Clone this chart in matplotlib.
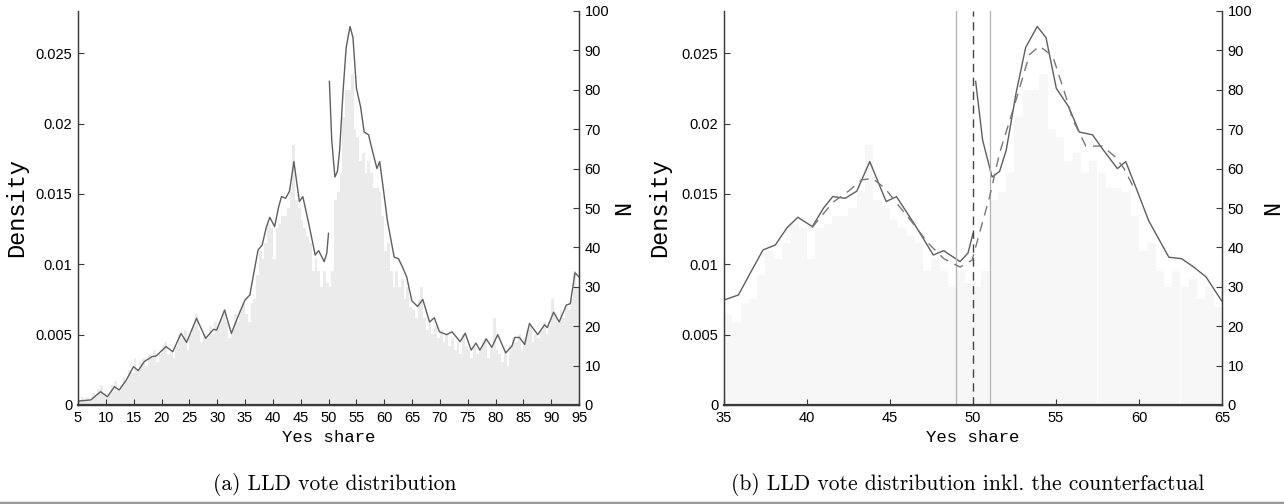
import numpy as np
import matplotlib
matplotlib.use("Agg")
import matplotlib.pyplot as plt
from matplotlib.lines import Line2D

# histogram: counts per 0.5-wide bin, 5.0 .. 95.0
bin_edges = np.arange(5.0, 95.01, 0.5)
counts = [
    # 5 - 35
    1, 2, 1, 2, 1, 3, 2, 4, 5, 3, 2, 3, 5, 6, 4, 5, 7, 6, 9, 8,
    12, 9, 11, 12, 10, 13, 12, 14, 11, 13, 15, 16, 13, 14, 12, 15, 18, 17, 19, 14,
    18, 20, 23, 19, 16, 18, 17, 20, 18, 21, 20, 22, 24, 21, 17, 19, 23, 21, 24, 26,
    # 35 - 65
    23, 21, 26, 27, 33, 39, 37, 41, 46, 45, 37, 45, 46, 48, 48, 50, 54, 66, 52, 50,
    47, 45, 43, 41, 34, 37, 34, 30, 34, 31, 30, 34, 52, 54, 59, 73, 80, 80, 84, 70,
    68, 62, 64, 59, 62, 59, 55, 55, 54, 48, 39, 41, 34, 30, 34, 30, 32, 27, 30, 25,
    # 65 - 95
    24, 22, 27, 30, 22, 19, 21, 18, 20, 17, 19, 16, 18, 15, 17, 14, 16, 13, 18, 15,
    14, 12, 15, 13, 14, 16, 17, 12, 15, 22, 14, 13, 11, 14, 10, 15, 17, 16, 18, 14,
    17, 19, 20, 16, 18, 17, 19, 21, 18, 20, 27, 23, 21, 24, 22, 25, 24, 27, 34, 30,
]

# estimated density, left of the 50% threshold
dens_left_x = [5.0, 7.3, 9.06, 10.27, 11.55, 12.4, 13.69, 14.97, 15.82, 16.89,
               18.31, 19.03, 20.81, 22.02, 23.51, 24.51, 26.29, 27.93, 29.35, 29.92,
               31.34, 32.55, 33.98, 35.0, 35.87, 36.5, 37.35, 38.09, 38.8, 39.45,
               40.32, 41.0, 41.55, 42.3, 43.0, 43.78, 44.77, 45.39, 46.5, 47.61,
               48.23, 49.22, 49.7, 50.0]
dens_left_y = [0.00028, 0.00036, 0.00095, 0.00059, 0.0013, 0.00107, 0.00178, 0.00273, 0.00244, 0.00308,
               0.00344, 0.00348, 0.00415, 0.00379, 0.00509, 0.00445, 0.00616, 0.00474, 0.00538, 0.00533,
               0.00675, 0.00509, 0.00652, 0.00746, 0.00782, 0.0092, 0.01102, 0.01137, 0.0126, 0.01334,
               0.01268, 0.0140, 0.01481, 0.01469, 0.0152, 0.0173, 0.01446, 0.01481, 0.0128, 0.01066,
               0.01097, 0.01019, 0.0108, 0.0122]

# estimated density, right of the threshold
dens_right_x = [50.16, 50.58, 51.15, 51.6, 52.0, 52.6, 53.17, 53.87, 54.4, 55.02,
                55.76, 56.4, 57.2, 57.8, 58.7, 59.2, 59.9, 60.58, 61.8, 62.56,
                63.3, 64.04, 64.98, 66.0, 66.94, 68.15, 69.0, 69.93, 71.22, 72.2,
                73.64, 74.56, 75.63, 76.48, 77.2, 78.34, 79.33, 80.4, 81.83, 82.96,
                83.46, 84.3, 85.24, 86.1, 87.59, 88.8, 89.3, 90.44, 91.44, 92.72,
                93.43, 94.28, 95.0]
dens_right_y = [0.0230, 0.01882, 0.0162, 0.0166, 0.0181, 0.0222, 0.0254, 0.0269, 0.0261, 0.0225,
                0.0212, 0.0194, 0.0192, 0.0182, 0.0168, 0.0173, 0.0152, 0.0131, 0.0105, 0.0104,
                0.0098, 0.0091, 0.0074, 0.0070, 0.0075, 0.0059, 0.0062, 0.0052, 0.0050, 0.0052,
                0.0045, 0.0051, 0.0039, 0.0044, 0.0039, 0.0047, 0.0041, 0.0050, 0.0037, 0.0042,
                0.0048, 0.0048, 0.0043, 0.0058, 0.0050, 0.0057, 0.0055, 0.0066, 0.0059, 0.0071,
                0.0072, 0.0094, 0.0091]

# counterfactual density (panel b, dashed)
cf_x = [40.3, 41.55, 42.5, 43.3, 43.95, 44.7, 45.5, 46.26, 47.3, 48.24,
        49.22, 49.95, 50.27, 51.0, 51.6, 52.6, 53.4, 54.0, 54.8, 55.6,
        56.0, 56.8, 57.8, 58.6, 59.1, 59.7]
cf_y = [0.0126, 0.0144, 0.0152, 0.0160, 0.0161, 0.0154, 0.0142, 0.0131, 0.0115, 0.0104,
        0.0098, 0.0103, 0.0117, 0.0148, 0.0179, 0.0217, 0.0249, 0.0255, 0.0248, 0.0219,
        0.0203, 0.0184, 0.0184, 0.0176, 0.0168, 0.0154]

band_lines = [49, 51]
threshold = 50

W, H = 1284, 504
fig = plt.figure(figsize=(W / 100, H / 100), dpi=100)

TICK_FAMILY = "Liberation Sans"
mono = "Liberation Mono"
LINE_C = "#5f5f5f"
SPINE_C = "#3a3a3a"


def make_panel(left_px, width_px, xlim, xticks, bar_color, caption, caption_x):
    ax = fig.add_axes([left_px / W, (H - 405) / H, width_px / W, 394 / H])
    ax2 = ax.twinx()

    ax2.bar(bin_edges[:-1], counts, width=0.5, align="edge",
            color=bar_color, edgecolor="none", linewidth=0)
    ax2.set_ylim(0, 100)
    ax2.set_yticks(range(0, 101, 10))

    # density curve drawn above the bars
    ax.set_zorder(ax2.get_zorder() + 1)
    ax.patch.set_visible(False)
    ax.plot(dens_left_x, dens_left_y, color=LINE_C, lw=1.0)
    ax.plot(dens_right_x, dens_right_y, color=LINE_C, lw=1.0)
    ax.set_ylim(0, 0.028)
    ax.set_xlim(*xlim)
    ax.set_xticks(xticks)
    ax.set_yticks([0, 0.005, 0.01, 0.015, 0.02, 0.025])
    ax.set_yticklabels(["0", "0.005", "0.01", "0.015", "0.02", "0.025"])

    for a in (ax, ax2):
        a.spines["top"].set_visible(False)
        for s in ("left", "right", "bottom"):
            a.spines[s].set_color(SPINE_C)
            a.spines[s].set_linewidth(0.9)
        a.tick_params(direction="in", length=4, width=0.8, color=SPINE_C,
                      labelsize=10.5, pad=4)
        for lab in a.get_xticklabels() + a.get_yticklabels():
            lab.set_fontfamily(TICK_FAMILY)
    ax.spines["bottom"].set_linewidth(1.6)

    ax.set_xlabel("Yes share", family=mono, fontsize=12.5)
    ax.xaxis.set_label_coords(0.5, -0.064)
    ax.set_ylabel("Density", family=mono, fontsize=17)
    ax2.set_ylabel("N", family=mono, fontsize=17)
    fig.text(caption_x / W, (H - 484) / H, caption, family="cmr10",
             fontsize=15.5, ha="center", va="center")
    return ax, ax2


axA, axA2 = make_panel(78, 501, (5, 95), range(5, 96, 5), "#ebebeb",
                       "(a) LLD vote distribution", 335)
axA.yaxis.set_label_coords(-0.1, 0.5)
axA2.yaxis.set_label_coords(1.066, 0.5)

axB, axB2 = make_panel(724, 498, (35, 65), range(35, 66, 5), "#f7f7f7",
                       "(b) LLD vote distribution inkl. the counterfactual", 968)
axB.yaxis.set_label_coords(-0.106, 0.5)
axB2.yaxis.set_label_coords(1.078, 0.5)

for xv in band_lines:
    axB.axvline(xv, color="#b4b4b4", lw=0.9)
axB.axvline(threshold, color="#444444", lw=1.0, dashes=(6, 4))
axB.plot(cf_x, cf_y, color="#777777", lw=1.0, dashes=(7, 5))

# thin rule at the bottom of the page
fig.add_artist(Line2D([0, 1], [1.5 / H, 1.5 / H], color="#9a9a9a", lw=2.5,
                      transform=fig.transFigure))

fig.savefig("out.png", dpi=100)
